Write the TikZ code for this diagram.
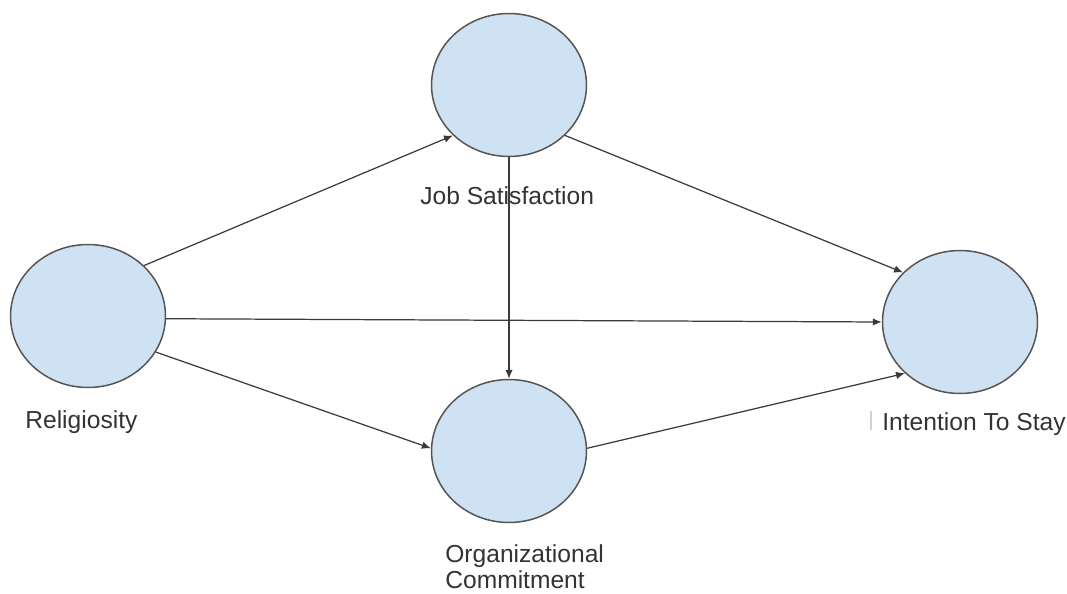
\documentclass[tikz,border=0pt]{standalone}
\usepackage{fontspec}
\setmainfont{Liberation Sans}
\usepackage{xcolor}
\usepackage{tikz}
\usetikzlibrary{shapes.geometric,arrows.meta}
\definecolor{varfill}{HTML}{cfe2f3}
\definecolor{varline}{HTML}{555555}
\definecolor{pathline}{HTML}{3a3a3a}
\definecolor{labeltext}{HTML}{333333}

\begin{document}
\begin{tikzpicture}[x=0.02cm, y=-0.02cm,
  latentvar/.style={draw=varline, line width=0.85pt, ellipse, fill=varfill, minimum width=3.1cm, minimum height=2.86cm, inner sep=0pt},
  varlabel/.style={inner sep=0pt, text=labeltext, font=\fontsize{14pt}{15pt}\selectfont},
  pathedge/.style={draw=pathline, line width=0.7pt, -{Latex[length=1.8mm, width=1.5mm]}}]%
\useasboundingbox (0,0) rectangle (1067,594);%
\node[latentvar] (rel) at (88,316) {};%
\node[latentvar] (job) at (509,85) {};%
\node[latentvar] (org) at (509,451) {};%
\node[latentvar] (int) at (960,322) {};%
\node[varlabel, anchor=base west] (rellabel) at (25,428) {Religiosity};%
\node[varlabel, anchor=base west] (joblabel) at (420,205) {Job Satisfaction};%
\node[varlabel, anchor=north west, align=left] (orglabel) at (445,544) {Organizational\\Commitment};%
\node[varlabel, anchor=base west] (intlabel) at (882,430) {Intention To Stay};%
\draw[gray!35, line width=0.8pt] (871,411) -- (871,430);%
\draw[pathedge] (rel.42) -- (job.222);%
\draw[pathedge] (rel.-2) -- (int.180);%
\draw[pathedge] (rel.-28) -- (org.178);%
\draw[pathedge] (job.south) -- (org.north);%
\draw[pathedge] (job.-42) -- (int.139);%
\draw[pathedge] (org.2) -- (int.223);%
\end{tikzpicture}
\end{document}
